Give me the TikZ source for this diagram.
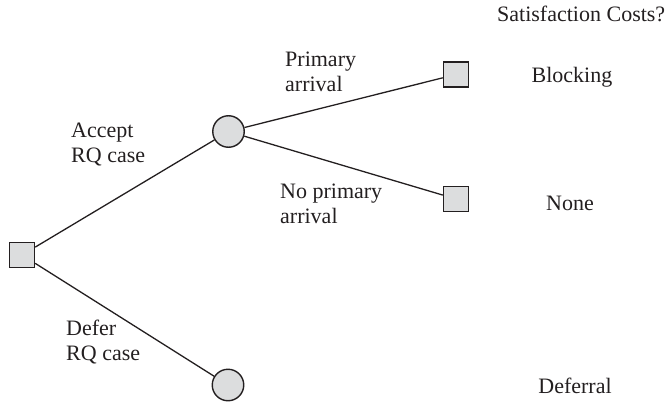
\documentclass[tikz,border=0pt]{standalone}
\usepackage{fontspec}
\setmainfont{Liberation Serif}
\definecolor{ink}{RGB}{35,31,32}
\definecolor{nodefill}{RGB}{220,221,222}
\begin{document}
\begin{tikzpicture}[x=1pt,y=-1pt,
  decsq/.style={draw=ink, fill=nodefill, line width=1.4pt, minimum size=25pt, inner sep=0pt},
  chance/.style={circle, draw=ink, fill=nodefill, line width=1.4pt, minimum size=31.5pt, inner sep=0pt},
  branch/.style={draw=ink, line width=1.3pt},
  lbl/.style={text=ink, font=\fontsize{22}{25}\selectfont, align=left, anchor=base west, inner sep=0pt},
  cost/.style={text=ink, font=\fontsize{22}{25}\selectfont, anchor=base, inner sep=0pt}]
\useasboundingbox (0,0) rectangle (667,404);
\node[decsq] (d0) at (22,255) {};
\node[chance] (c1) at (228.5,131.5) {};
\node[chance] (c2) at (228,385) {};
\node[decsq] (t1) at (456,74.5) {};
\node[decsq] (t2) at (456,199) {};
\draw[branch] (d0) -- (c1);
\draw[branch] (d0) -- (c2);
\draw[branch] (c1) -- (t1);
\draw[branch] (c1) -- (t2);
\node[lbl] (la) at (71,162) {Accept\\RQ case};
\node[lbl] (lp) at (285,92) {Primary\\arrival};
\node[lbl] (ln) at (280,223) {No primary\\arrival};
\node[lbl] (ld) at (66,360) {Defer\\RQ case};
\node[lbl] (hdr) at (497,22) {Satisfaction Costs?};
\node[cost] (cb) at (572,83) {Blocking};
\node[cost] (cn) at (570,210) {None};
\node[cost] (cd) at (575,393) {Deferral};
\end{tikzpicture}
\end{document}
